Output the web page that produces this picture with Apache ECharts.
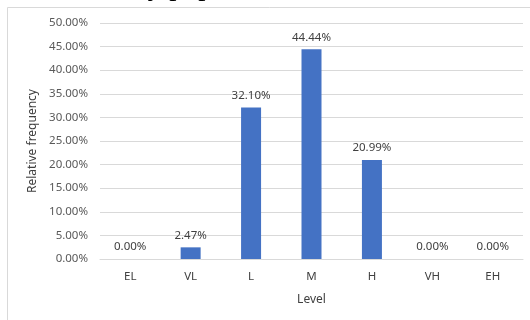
<!DOCTYPE html>
<html>
<head>
<meta charset="utf-8">
<script src="https://cdn.jsdelivr.net/npm/echarts@6/dist/echarts.min.js"></script>
<style>
  html, body { margin: 0; padding: 0; background: #ffffff; }
  #chart { width: 530px; height: 320px; }
</style>
</head>
<body>
<div id="chart"></div>
<script>
// Level categories and their relative frequencies (percent)
const levels = ['EL', 'VL', 'L', 'M', 'H', 'VH', 'EH'];
const relFreq = [0.00, 2.47, 32.10, 44.44, 20.99, 0.00, 0.00];
const yTicks = { min: 0, max: 50, step: 5 };
const yAxisTitle = 'Relative frequency';
const xAxisTitle = 'Level';
const captionText = 'by population level,';

const textFont = '"Noto Sans", "Open Sans", sans-serif';

const chart = echarts.init(document.getElementById('chart'), null, { renderer: 'canvas' });

chart.setOption({
  backgroundColor: '#ffffff',
  animation: false,
  graphic: [
    {
      // chart-area frame
      type: 'rect',
      shape: { x: 7.5, y: 7.5, width: 620, height: 400 },
      silent: true,
      z: -1,
      style: { fill: '#ffffff', stroke: '#d9d9d9', lineWidth: 1 }
    },
    {
      // caption line running above the chart area; only its descenders reach the canvas
      type: 'text',
      x: 133,
      y: -27,
      silent: true,
      z: 10,
      style: {
        text: captionText,
        font: '29px "Liberation Serif", "DejaVu Serif", serif',
        fill: '#000000'
      }
    }
  ],
  grid: { left: 100, right: 7, top: 23, bottom: 61, containLabel: false },
  xAxis: {
    type: 'category',
    data: levels,
    name: xAxisTitle,
    nameLocation: 'middle',
    nameGap: 35,
    nameTextStyle: { color: '#404040', fontSize: 12, fontFamily: textFont },
    axisLine: { show: true, lineStyle: { color: '#d9d9d9', width: 1 } },
    axisTick: { show: false },
    axisLabel: { color: '#404040', fontSize: 11.5, fontFamily: textFont, margin: 12 },
    splitLine: { show: false }
  },
  yAxis: {
    type: 'value',
    min: yTicks.min,
    max: yTicks.max,
    interval: yTicks.step,
    name: yAxisTitle,
    nameLocation: 'middle',
    nameGap: 47,
    nameRotate: 90,
    nameTextStyle: { color: '#404040', fontSize: 12, fontFamily: textFont },
    axisLine: { show: false },
    axisTick: { show: false },
    axisLabel: {
      color: '#595959',
      fontSize: 11.5,
      fontFamily: textFont,
      margin: 12,
      formatter: v => v.toFixed(2) + '%'
    },
    splitLine: { show: true, lineStyle: { color: '#d9d9d9', width: 1 } }
  },
  series: [
    {
      type: 'bar',
      data: relFreq,
      barWidth: 20,
      itemStyle: { color: '#4472c4' },
      label: {
        show: true,
        position: 'top',
        distance: 6,
        color: '#404040',
        fontSize: 11.5,
        fontFamily: textFont,
        formatter: p => p.value.toFixed(2) + '%'
      }
    }
  ]
});
</script>
</body>
</html>
